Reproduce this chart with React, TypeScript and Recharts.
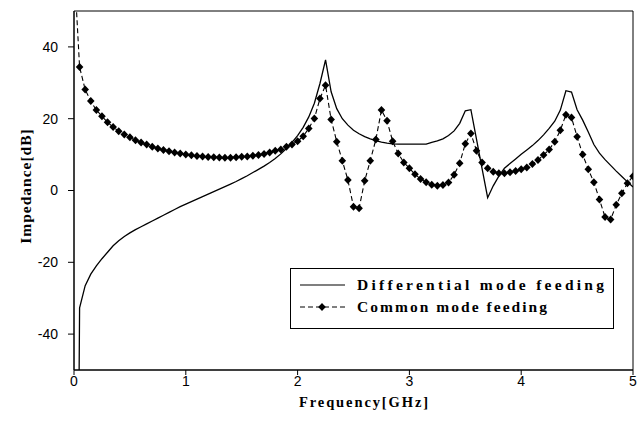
import React from 'react';
import { LineChart, Line, XAxis, YAxis, Legend, ReferenceArea, Label } from 'recharts';

// frequency sweep, GHz
const freqGHz = [
  0, 0.05, 0.1, 0.15, 0.2, 0.25, 0.3, 0.35, 0.4, 0.45,
  0.5, 0.55, 0.6, 0.65, 0.7, 0.75, 0.8, 0.85, 0.9, 0.95,
  1, 1.05, 1.1, 1.15, 1.2, 1.25, 1.3, 1.35, 1.4, 1.45,
  1.5, 1.55, 1.6, 1.65, 1.7, 1.75, 1.8, 1.85, 1.9, 1.95,
  2, 2.05, 2.1, 2.15, 2.2, 2.25, 2.3, 2.35, 2.4, 2.45,
  2.5, 2.55, 2.6, 2.65, 2.7, 2.75, 2.8, 2.85, 2.9, 2.95,
  3, 3.05, 3.1, 3.15, 3.2, 3.25, 3.3, 3.35, 3.4, 3.45,
  3.5, 3.55, 3.6, 3.65, 3.7, 3.75, 3.8, 3.85, 3.9, 3.95,
  4, 4.05, 4.1, 4.15, 4.2, 4.25, 4.3, 4.35, 4.4, 4.45,
  4.5, 4.55, 4.6, 4.65, 4.7, 4.75, 4.8, 4.85, 4.9, 4.95,
  5,
];

// impedance, dB
const differentialDb = [
  -250, -32.7, -26.5, -23.3, -21.0, -19.0, -17.2, -15.4, -14.0, -12.8,
  -11.8, -10.9, -10.1, -9.3, -8.5, -7.7, -6.9, -6.1, -5.3, -4.5,
  -3.8, -3.1, -2.4, -1.7, -1.0, -0.3, 0.4, 1.1, 1.8, 2.5,
  3.3, 4.1, 5.0, 5.9, 6.8, 7.8, 8.9, 10.2, 11.7, 13.4,
  15.3, 17.6, 20.5, 24.3, 29.8, 36.4, 27.5, 22.8, 20.0, 18.2,
  16.8, 15.8, 15.0, 14.4, 13.9, 13.5, 13.2, 13.0, 12.9, 12.9,
  12.9, 12.9, 12.9, 12.9, 13.4, 13.8, 14.4, 15.3, 16.6, 18.7,
  22.2, 22.5, 14.3, 6.1, -2.0, 1.3, 4.0, 6.2, 7.5, 8.8,
  10.1, 11.3, 12.5, 13.9, 15.5, 17.3, 19.3, 22.4, 27.8, 27.4,
  22.5, 19.6, 16.3, 12.8, 10.4, 8.6, 7.0, 5.4, 3.9, 2.4,
  1.0,
];

const commonDb = [
  63, 34.4, 28.1, 24.9, 22.4, 20.7, 19.0, 17.7, 16.5, 15.6,
  14.8, 14.0, 13.4, 12.8, 12.2, 11.7, 11.3, 10.9, 10.6, 10.3,
  10.0, 9.8, 9.6, 9.5, 9.35, 9.25, 9.2, 9.1, 9.15, 9.25,
  9.4, 9.5, 9.7, 9.9, 10.2, 10.6, 11.05, 11.4, 12.2, 12.8,
  13.75, 15.1, 17.3, 20.05, 25.6, 29.3, 19.8, 13.6, 8.3, 2.9,
  -4.5, -4.95, 2.7, 8.3, 14.2, 22.4, 19.4, 13.75, 10.3, 7.8,
  6.2, 4.5, 3.2, 2.3, 1.6, 1.35, 1.5, 2.2, 4.4, 7.6,
  13.0, 15.9, 11.1, 7.8, 6.2, 5.2, 4.8, 4.8, 5.1, 5.4,
  5.9, 6.4, 7.4, 8.5, 9.9, 11.4, 13.6, 16.8, 21.1, 20.3,
  15.0, 10.0, 5.9, 2.3, -2.5, -7.4, -8.1, -4.0, -0.8, 2.0,
  4.0,
];

const xTicks = [0, 1, 2, 3, 4, 5];
const yTicks = [-40, -20, 0, 20, 40];

const data = freqGHz.map((f, i) => ({
  f,
  differential: differentialDb[i],
  common: commonDb[i],
}));

const SANS = '"Liberation Sans", Arial, sans-serif';
const SERIF = '"Liberation Serif", "Times New Roman", serif';

const diamond = (cx: number, cy: number) =>
  `M${cx},${cy - 4}L${cx + 3.8},${cy}L${cx},${cy + 4}L${cx - 3.8},${cy}Z`;

// filled diamond marker, skipped when the point is off the y range
const DiamondDot = (props: any) => {
  const { cx, cy, value, index } = props;
  if (cx == null || cy == null || value > 50 || value < -50) {
    return <g key={`dot-${index}`} />;
  }
  return <path key={`dot-${index}`} d={diamond(cx, cy)} fill="#000" />;
};

const renderLegend = () => (
  <svg width={324} height={61} style={{ display: 'block' }}>
    <rect x={0.5} y={0.5} width={323} height={60} fill="#fff" stroke="#000" />
    <line x1={10} y1={17} x2={55} y2={17} stroke="#000" strokeWidth={1.2} />
    <line x1={10} y1={39} x2={55} y2={39} stroke="#000" strokeDasharray="5 3" />
    <path d={diamond(32, 39)} fill="#000" />
    <text x={67} y={22} textLength={247} fontFamily={SERIF} fontWeight="bold" fontSize={15.5} fill="#000">
      Differential mode feeding
    </text>
    <text x={67} y={44} textLength={190} fontFamily={SERIF} fontWeight="bold" fontSize={15.5} fill="#000">
      Common mode feeding
    </text>
  </svg>
);

const XTitle = (props: any) => {
  const vb = props.viewBox || { x: 74, y: 370, width: 559 };
  return (
    <text
      x={vb.x + vb.width / 2 + 11}
      y={vb.y + 37}
      textAnchor="middle"
      fontFamily={SERIF}
      fontWeight="bold"
      fontSize={14.5}
      letterSpacing={1.9}
      fill="#000"
    >
      Frequency[GHz]
    </text>
  );
};

const YTitle = () => (
  <text
    x={25}
    y={186}
    transform="rotate(-90 25 186)"
    textAnchor="middle"
    dominantBaseline="central"
    fontFamily={SERIF}
    fontWeight="bold"
    fontSize={15.5}
    letterSpacing={1}
    fill="#000"
  >
    Impedance[dB]
  </text>
);

const App = () => {
  return (
    <div style={{ position: 'absolute', left: 0, top: 0, width: 644, height: 426, background: '#fff' }}>
      <LineChart width={644} height={426} data={data} margin={{ top: 11, right: 11, left: 0, bottom: 0 }}>
        <XAxis
          dataKey="f"
          type="number"
          domain={[0, 5]}
          ticks={xTicks}
          height={56}
          tickSize={5}
          tickMargin={1}
          stroke="#000"
          tick={{ fontSize: 14, fill: '#000', fontFamily: SANS }}
          allowDataOverflow
        >
          <Label content={<XTitle />} />
        </XAxis>
        <YAxis
          type="number"
          domain={[-50, 50]}
          ticks={yTicks}
          width={74}
          tickSize={6}
          tickMargin={10}
          stroke="#000"
          tick={{ fontSize: 14, fill: '#000', fontFamily: SANS }}
          allowDataOverflow
        >
          <Label content={<YTitle />} />
        </YAxis>
        <ReferenceArea x1={0} x2={5} y1={-50} y2={50} fill="none" stroke="#000" strokeWidth={1} />
        <Line
          type="linear"
          dataKey="differential"
          name="Differential mode feeding"
          stroke="#000"
          strokeWidth={1.3}
          dot={false}
          activeDot={false}
          isAnimationActive={false}
        />
        <Line
          type="linear"
          dataKey="common"
          name="Common mode feeding"
          stroke="#000"
          strokeWidth={1.1}
          strokeDasharray="5 3"
          dot={DiamondDot}
          activeDot={false}
          isAnimationActive={false}
        />
        <Legend
          layout="horizontal"
          verticalAlign="middle"
          align="center"
          content={renderLegend}
          wrapperStyle={{ position: 'absolute', left: 290, top: 268, width: 324, height: 61 }}
        />
      </LineChart>
    </div>
  );
};

export default App;
